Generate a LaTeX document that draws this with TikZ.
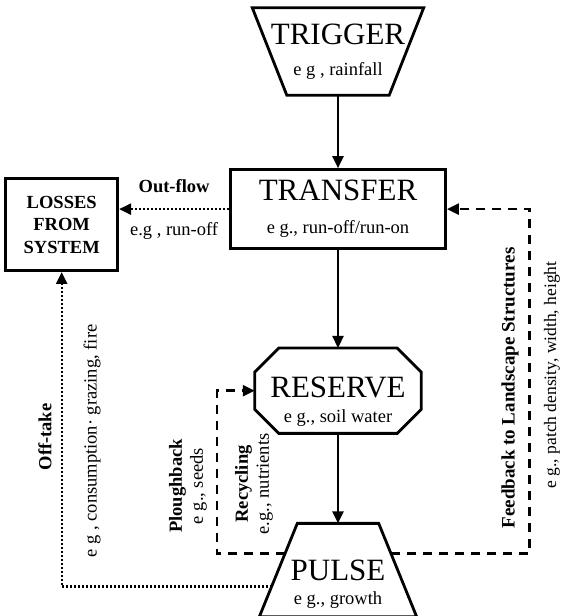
\documentclass[tikz,border=0pt]{standalone}
\usepackage{fontspec}
\setmainfont{Liberation Serif}
\usetikzlibrary{positioning,arrows.meta}

\newcommand{\bigsize}{\fontsize{31}{33}\selectfont}
\newcommand{\smallsize}{\fontsize{18.5}{21}\selectfont}

\begin{document}
\begin{tikzpicture}[x=1pt, y=1pt,
  every node/.style={font=\smallsize},
  stage/.style={align=center, inner sep=2pt, font=\bigsize},
  outline/.style={line width=2.8pt, line join=miter},
  flow/.style={line width=2.3pt, -{Triangle[length=12pt,width=11pt]}},
  leak/.style={flow, dash pattern=on 2pt off 2pt},
  feedback/.style={flow, line width=2.6pt, dash pattern=on 9pt off 7pt},
  sidetext/.style={rotate=90, align=center}]

	\useasboundingbox (0,0) rectangle (564,616);

	% Define nodes
	\node[stage, minimum width=171pt, minimum height=87pt]
	      (trigger) at (338,564.5) {TRIGGER\\[-2pt]{\smallsize e g , rainfall}};
	\node[stage, draw, line width=2.8pt, minimum width=215pt, minimum height=79pt, below=73pt of trigger]
	      (transfer) {TRANSFER\\{\smallsize e g., run-off/run-on}};
	\node[stage, minimum width=166pt, minimum height=85pt, below=98pt of transfer]
	      (reserve) {\rule{0pt}{42pt}RESERVE\\[-8pt]{\smallsize e g., soil water}};
	\node[stage, minimum width=157pt, minimum height=93pt, below=90pt of reserve]
	      (pulse) {\rule{0pt}{49pt}PULSE\\[-9pt]{\smallsize e g., growth}};
	\node[draw, line width=2.8pt, align=center, font=\bfseries\fontsize{18.5}{22.5}\selectfont,
	      minimum width=112pt, minimum height=92pt, left=110pt of transfer, yshift=-15.5pt]
	      (losses) {LOSSES\\FROM\\SYSTEM};

	% Shape outlines
	\draw[outline] (trigger.north west) -- (trigger.north east)
	      -- ([xshift=-34.5pt]trigger.south east) -- ([xshift=34.5pt]trigger.south west) -- cycle;
	\draw[outline] ([xshift=24pt]reserve.north west) -- ([xshift=-24pt]reserve.north east)
	      -- ([yshift=-24pt]reserve.north east) -- ([yshift=24pt]reserve.south east)
	      -- ([xshift=-24pt]reserve.south east) -- ([xshift=24pt]reserve.south west)
	      -- ([yshift=24pt]reserve.south west) -- ([yshift=-24pt]reserve.north west) -- cycle;
	\draw[outline] ([xshift=38pt]pulse.north west) -- ([xshift=-38pt]pulse.north east)
	      -- (pulse.south east) -- (pulse.south west) -- cycle;

	% Points on the slanted sides of the pulse
	\coordinate (pulseleft) at ([shift={(-52.8pt,16.5pt)}]pulse.center);
	\coordinate (pulseright) at ([shift={(52.8pt,16.5pt)}]pulse.center);
	\coordinate (pulseout) at ([shift={(-66.2pt,-16.5pt)}]pulse.center);

	% Labels on the side loops
	\node[sidetext, font=\bfseries\smallsize] (offtake) at (45,179) {Off-take};
	\node[sidetext] (offtakeeg) at (92,175) {e g , consumption· grazing, fire};
	\node[sidetext] (plough) at (188,130) {\textbf{Ploughback}\\e g., seeds};
	\node[sidetext] (recycle) at (254,132) {\textbf{Recycling}\\e.g., nutrients};
	\node[sidetext, font=\bfseries\fontsize{19}{21}\selectfont] (fbhead) at (510,228) {Feedback to Landscape Structures};
	\node[sidetext, font=\fontsize{17.5}{20}\selectfont] (fbeg) at (552,241) {e g., patch density, width, height};

	% Connect the nodes
	\draw[flow] (trigger) -- (transfer);
	\draw[flow] (transfer) -- (reserve);
	\draw[flow] (reserve) -- (pulse);
	\draw[leak] (transfer.west) -- (transfer.west -| losses.east)
	      node[midway, above=12pt, font=\bfseries\smallsize] {Out-flow}
	      node[midway, below=9pt] {e.g , run-off};
	\draw[leak] (pulseout) -| (losses.south);
	\draw[feedback] (pulseright) -| ([xshift=82.5pt]transfer.east) -- (transfer.east);
	\draw[feedback] (pulseleft) -| ([xshift=-38pt]reserve.west) -- (reserve.west);

\end{tikzpicture}
\end{document}
